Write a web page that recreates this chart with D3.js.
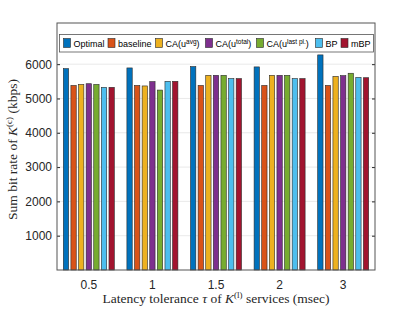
<!DOCTYPE html>
<html>
<head>
<meta charset="utf-8">
<script src="https://cdn.jsdelivr.net/npm/d3@7"></script>
<style>
  body { margin: 0; background: #fff; }
  svg { display: block; }
</style>
</head>
<body>
<svg id="svg" width="415" height="312"></svg>
<script>
// 遅延許容度のカテゴリ
const categories = ["0.5", "1", "1.5", "2", "3"];
// 凡例の系列名
const seriesNames = ["Optimal", "baseline", "CA(avg)", "CA(total)", "CA(last)", "BP", "mBP"];
// 各系列の値 (kbps)
const optimal  = [5870, 5890, 5930, 5920, 6270];
const baseline = [5380, 5380, 5380, 5380, 5380];
const caAvg    = [5410, 5365, 5675, 5675, 5645];
const caTotal  = [5430, 5490, 5675, 5675, 5665];
const caLast   = [5410, 5245, 5675, 5675, 5735];
const bp       = [5325, 5500, 5580, 5580, 5615];
const mbp      = [5325, 5500, 5580, 5580, 5605];
const yTicks = [1000, 2000, 3000, 4000, 5000, 6000];

const seriesValues = [optimal, baseline, caAvg, caTotal, caLast, bp, mbp];
const colors = ["#0072BD", "#D95319", "#EDB120", "#7E2F8E", "#77AC30", "#4DBEEE", "#A2142F"];

const svg = d3.select("#svg");
const plotL = 57, plotR = 375, plotT = 23, plotB = 270;

const x = d3.scaleBand().domain(categories).range([plotL, plotR]).padding(0);
const xInner = d3.scaleBand().domain(d3.range(seriesNames.length))
  .range([0, 51]).paddingInner(0.3).paddingOuter(0);
const y = d3.scaleLinear().domain([0, 7200]).range([plotB, plotT]);

// グリッド線
svg.append("g")
  .selectAll("line")
  .data(yTicks)
  .join("line")
  .attr("x1", plotL).attr("x2", plotR)
  .attr("y1", d => y(d)).attr("y2", d => y(d))
  .attr("stroke", "#e3e3e3")
  .attr("stroke-width", 0.8);

// 棒の描画
const groups = svg.append("g")
  .selectAll("g")
  .data(categories)
  .join("g")
  .attr("transform", d => `translate(${x(d) + x.bandwidth() / 2 - 25.5},0)`);

groups.selectAll("rect")
  .data((d, i) => seriesValues.map((s, j) => ({ j: j, v: s[i] })))
  .join("rect")
  .attr("x", d => xInner(d.j))
  .attr("width", xInner.bandwidth())
  .attr("y", d => y(d.v))
  .attr("height", d => y(0) - y(d.v))
  .attr("fill", d => colors[d.j])
  .attr("stroke", "#2a2a2a")
  .attr("stroke-width", 0.6);

// 軸
const yAxis = svg.append("g")
  .attr("transform", `translate(${plotL},0)`)
  .call(d3.axisLeft(y).tickValues(yTicks).tickSize(-3).tickPadding(5).tickFormat(d3.format("d")));
yAxis.select(".domain").remove();
yAxis.selectAll("line").attr("stroke", "#262626");
yAxis.selectAll("text")
  .attr("font-family", "Liberation Sans, Arial, sans-serif")
  .attr("font-size", 12)
  .attr("fill", "#262626");

const yAxisR = svg.append("g")
  .attr("transform", `translate(${plotR},0)`)
  .call(d3.axisRight(y).tickValues(yTicks).tickSize(-3).tickFormat(""));
yAxisR.select(".domain").remove();
yAxisR.selectAll("line").attr("stroke", "#262626");

const xAxis = svg.append("g")
  .attr("transform", `translate(0,${plotB})`)
  .call(d3.axisBottom(x).tickSize(0).tickPadding(10));
xAxis.select(".domain").remove();
xAxis.selectAll("text")
  .attr("font-family", "Liberation Sans, Arial, sans-serif")
  .attr("font-size", 12)
  .attr("fill", "#262626");

// 枠
svg.append("rect")
  .attr("x", plotL).attr("y", plotT)
  .attr("width", plotR - plotL).attr("height", plotB - plotT)
  .attr("fill", "none")
  .attr("stroke", "#555")
  .attr("stroke-width", 1);

// 軸ラベル
const serif = "Liberation Serif, Times New Roman, serif";
const yl = svg.append("text")
  .attr("transform", `translate(17,${(plotT + plotB) / 2 + 3}) rotate(-90)`)
  .attr("text-anchor", "middle")
  .attr("font-family", serif)
  .attr("font-size", 13.5)
  .attr("fill", "#262626");
yl.append("tspan").text("Sum bit rate of ");
yl.append("tspan").attr("font-style", "italic").text("K");
yl.append("tspan").attr("font-size", 9).attr("dy", -5).text("(c)");
yl.append("tspan").attr("dy", 5).text(" (kbps)");

const xl = svg.append("text")
  .attr("x", 216).attr("y", 303)
  .attr("text-anchor", "middle")
  .attr("font-family", serif)
  .attr("font-size", 13.5)
  .attr("fill", "#262626");
xl.append("tspan").text("Latency tolerance ");
xl.append("tspan").attr("font-style", "italic").text("τ");
xl.append("tspan").text(" of ");
xl.append("tspan").attr("font-style", "italic").text("K");
xl.append("tspan").attr("font-size", 9).attr("dy", -5).text("(l)");
xl.append("tspan").attr("dy", 5).text(" services (msec)");

// 凡例
const legend = svg.append("g");
legend.append("rect")
  .attr("x", 59.5).attr("y", 34.5)
  .attr("width", 314).attr("height", 17.5)
  .attr("fill", "#fff")
  .attr("stroke", "#555")
  .attr("stroke-width", 0.8);

const labelParts = [
  ["Optimal"], ["baseline"], ["CA(u", "avg", ")"], ["CA(u", "total", ")"],
  ["CA(u", "last pl.", ")"], ["BP"], ["mBP"]
];
const legendX = [63.5, 108, 155.5, 205.5, 256.5, 315.5, 341];
labelParts.forEach((parts, i) => {
  legend.append("rect")
    .attr("x", legendX[i]).attr("y", 38.5)
    .attr("width", 7).attr("height", 9)
    .attr("fill", colors[i])
    .attr("stroke", "#2a2a2a")
    .attr("stroke-width", 0.6);
  const t = legend.append("text")
    .attr("x", legendX[i] + 10).attr("y", 47)
    .attr("font-family", "Liberation Sans, Arial, sans-serif")
    .attr("font-size", 9)
    .attr("fill", "#000");
  t.append("tspan").text(parts[0]);
  if (parts.length > 1) {
    t.append("tspan").attr("font-size", 6.5).attr("dy", -3.5).text(parts[1]);
    t.append("tspan").attr("dy", 3.5).text(parts[2]);
  }
});
</script>
</body>
</html>
